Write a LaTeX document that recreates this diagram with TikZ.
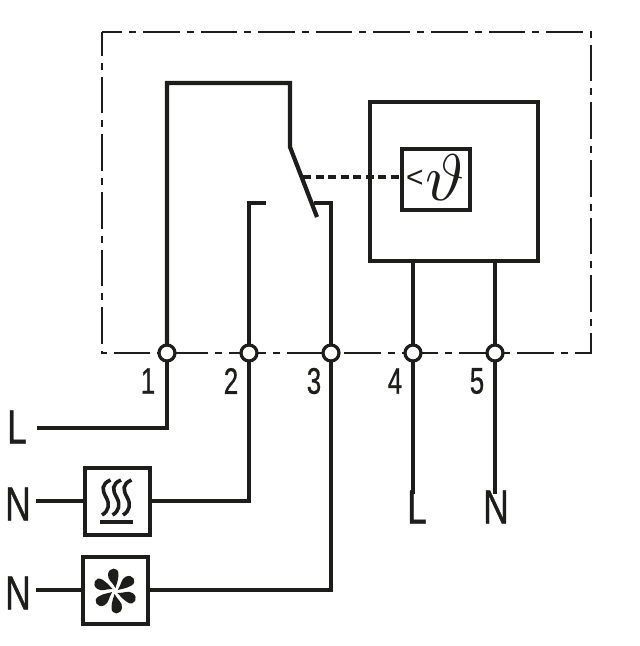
\documentclass[tikz,border=0pt]{standalone}
\usepackage{fontspec}
\setmainfont{Liberation Sans}
\newfontfamily\labelfont[RawFeature={embolden=0.8}]{Liberation Sans}
\definecolor{ink}{HTML}{1D1D1B}
\tikzset{
  wire/.style={line width=4.2pt,line cap=butt,line join=miter,draw=ink},
  thinwire/.style={line width=3.4pt,draw=ink},
  frame/.style={line width=2.6pt,draw=ink,dash pattern=on 36.6pt off 7pt on 7pt off 7pt,dash phase=16.6pt},
  terminal/.style={circle,draw=ink,fill=white,line width=3.2pt,minimum size=16pt,inner sep=0pt},
  unit/.style={draw=ink,fill=white,line width=4.2pt,inner sep=0pt,anchor=center},
  digit/.style={font=\labelfont\fontsize{37}{37}\selectfont,xscale=.7,text=ink,inner sep=0pt},
  letter/.style={font=\labelfont\fontsize{48}{48}\selectfont,xscale=.74,text=ink,inner sep=0pt},
  blade/.style={fill=ink,draw=none},
  wave/.style={line width=3.6pt,draw=ink,line cap=butt}
}
\begin{document}
\begin{tikzpicture}[x=1pt,y=-1pt]
\useasboundingbox (0,0) rectangle (640,646);
\fill[white] (0,0) rectangle (640,646);
% housing
\draw[frame] (102,32) -- (591,32) -- (591,353) -- (102,353) -- cycle;
% units
\node[unit,minimum width=168pt,minimum height=159pt] (sensor) at (454,181.5) {};
\node[unit,minimum width=68pt,minimum height=61pt] (probe) at (436,179.5) {};
\node[unit,minimum width=65pt,minimum height=67pt] (heater) at (117.5,501.5) {};
\node[unit,minimum width=65pt,minimum height=67pt] (fan) at (115.5,590.5) {};
% terminals
\foreach \n/\x in {1/167,2/249,3/331,4/413,5/495}
  \coordinate (t\n) at (\x,353);
% switch coordinates
\coordinate (c1) at (167,83);
\coordinate (c2) at (290,83);
\coordinate (pivot) at (290,147);
\coordinate (blade) at (317,217);
\coordinate (nc) at (249,203);
\coordinate (ncend) at (266,203);
\coordinate (no) at (331,203);
\coordinate (noend) at (314,203);
\coordinate (link) at (303,177);
\coordinate (e4) at (413,494);
\coordinate (e5) at (495,494);
\coordinate (eL) at (37,428);
\coordinate (c3) at (167,428);
\coordinate (eN1) at (36,501);
\coordinate (c4) at (249,501);
\coordinate (eN2) at (36,590);
\coordinate (c5) at (331,590);
% wires
\draw[wire] (t1) -- (c1) -- (c2) -- (pivot) -- (blade);
\draw[wire] (t2) -- (nc) -- (ncend);
\draw[wire] (t3) -- (no) -- (noend);
\draw[wire,dash pattern=on 8pt off 4.5pt] (link) -- (link -| probe.west);
\draw[wire] (t4 |- sensor.south) -- (t4) -- (e4);
\draw[wire] (t5 |- sensor.south) -- (t5) -- (e5);
\draw[thinwire] (eL) -- (c3) -- (t1);
\draw[thinwire] (eN1) -- (eN1 -| heater.west);
\draw[thinwire] (eN1 -| heater.east) -- (c4) -- (t2);
\draw[thinwire] (eN2) -- (eN2 -| fan.west);
\draw[thinwire] (eN2 -| fan.east) -- (c5) -- (t3);
\foreach \n in {1,2,3,4,5} \node[terminal] (T\n) at (t\n) {};
% labels
\node[digit] (l1) at (148,381) {1};
\node[digit] (l2) at (231,381) {2};
\node[digit] (l3) at (314,381) {3};
\node[digit] (l4) at (395,381) {4};
\node[digit] (l5) at (477,381) {5};
\node[letter] (lL) at (17,427) {L};
\node[letter] (lN1) at (18,504) {N};
\node[letter] (lN2) at (18,593) {N};
\node[letter] (lL2) at (417,507) {L};
\node[letter] (lN3) at (496,507) {N};
% probe symbol
\node[inner sep=0pt,text=ink,font=\fontsize{30}{30}\selectfont] (lt) at (415,178.5) {<};
\node[inner sep=0pt,text=ink,scale=6.6] (th) at (445,178) {$\vartheta$};
% heater symbol
\foreach \dx in {0,10.5,21}
  \draw[wave] ([xshift=\dx pt]110.5,480) .. controls ([xshift=\dx pt]101,484) and ([xshift=\dx pt]102,490) .. ([xshift=\dx pt]106,497) .. controls ([xshift=\dx pt]110,504) and ([xshift=\dx pt]109,511) .. ([xshift=\dx pt]102,515);
\draw[line width=3.2pt,draw=ink] (99.5,522) -- (132.5,522);
% fan symbol
\foreach \a in {0,60,120,180,240,300}
  \fill[blade,rotate around={\a:(115,591)}] (115.5,588) .. controls (112.5,582) and (107.5,580) .. (108,574.5) .. controls (108.5,567) and (118.5,566.5) .. (118.5,574) .. controls (118.5,580) and (116.5,584) .. cycle;
\end{tikzpicture}
\end{document}
